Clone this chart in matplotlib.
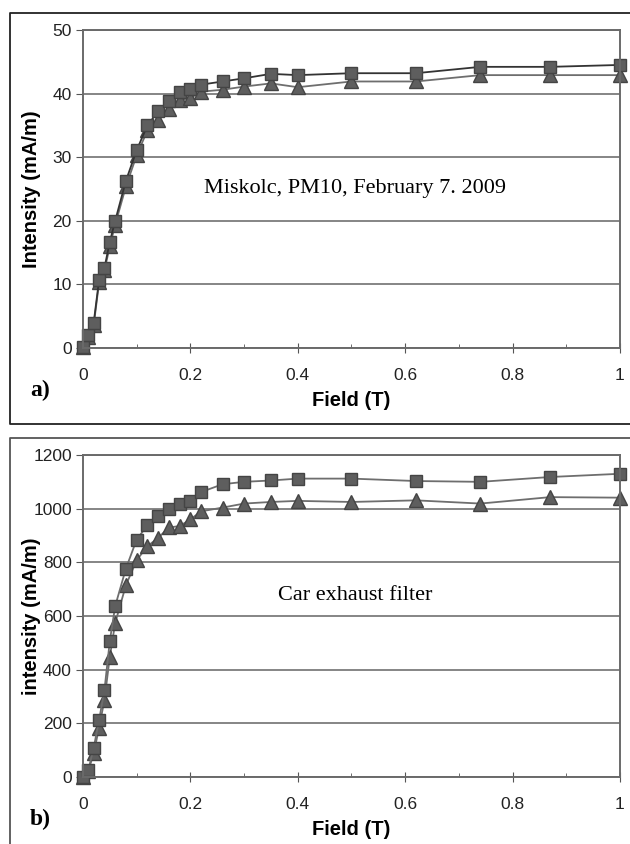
import matplotlib
matplotlib.use('Agg')
from matplotlib import pyplot as plt
from matplotlib.lines import Line2D
import numpy as np

# field values (T), same for both panels
field = [0, 0.01, 0.02, 0.03, 0.04, 0.05, 0.06, 0.08, 0.10, 0.12, 0.14, 0.16,
         0.18, 0.20, 0.22, 0.26, 0.30, 0.35, 0.40, 0.50, 0.62, 0.74, 0.87, 1.0]

# panel a) Miskolc PM10
a_square = [0.2, 2.0, 4.0, 10.7, 12.6, 16.7, 20.0, 26.3, 31.1, 35.0, 37.2, 38.8,
            40.2, 40.7, 41.4, 41.9, 42.4, 43.1, 42.9, 43.2, 43.2, 44.2, 44.2, 44.5]
a_triangle = [0.2, 1.7, 3.6, 10.3, 12.2, 16.0, 19.4, 25.4, 30.3, 34.2, 35.8, 37.6,
              39.0, 39.3, 40.3, 40.6, 41.1, 41.6, 41.0, 41.9, 41.9, 42.9, 42.9, 42.9]

# panel b) car exhaust filter
b_square = [0, 26, 109, 212, 324, 507, 637, 777, 885, 938, 972, 1000,
            1019, 1029, 1062, 1091, 1100, 1105, 1112, 1112, 1103, 1100, 1118, 1130]
b_triangle = [0, 23, 88, 184, 287, 448, 574, 715, 808, 860, 891, 930,
              935, 960, 990, 1004, 1019, 1025, 1029, 1025, 1031, 1019, 1043, 1041]

x_ticks = [0, 0.2, 0.4, 0.6, 0.8, 1]
x_ticklabels = ['0', '0.2', '0.4', '0.6', '0.8', '1']

GRID = '#858585'
FILL = '#5e5e5e'
EDGE = '#444444'


def style_axes(ax, ymax, ystep, ylabel, note, note_y, panel, h_px):
    ax.set_xlim(0, 1)
    ax.set_ylim(0, ymax)
    ax.set_xticks(x_ticks)
    ax.set_xticklabels(x_ticklabels)
    ax.set_xticks(np.arange(0.1, 1.0, 0.2), minor=True)
    ax.set_yticks(np.arange(0, ymax + 1, ystep))
    ax.yaxis.grid(True, color=GRID, linewidth=1.4)
    ax.set_axisbelow(True)
    for s in ax.spines.values():
        s.set_color('#6a6a6a')
        s.set_linewidth(1.4)
    ax.tick_params(axis='x', which='major', direction='inout', length=7,
                   color='#555555', labelsize=12.5, pad=11)
    ax.tick_params(axis='x', which='minor', direction='in', length=3,
                   color='#555555')
    ax.tick_params(axis='y', direction='out', length=5, color='#555555',
                   labelsize=12.5, pad=3)
    for lab in ax.get_xticklabels() + ax.get_yticklabels():
        lab.set_family('Liberation Sans')
        lab.set_color('#222222')
    ax.set_xlabel('Field (T)', family='Liberation Sans', fontweight='bold',
                  fontsize=14.5, va='center')
    ax.xaxis.set_label_coords(0.5, -53.0 / h_px)
    ax.set_ylabel(ylabel, family='Liberation Sans', fontweight='bold',
                  fontsize=14.5, va='center')
    ax.yaxis.set_label_coords(-51.0 / 536, 0.5)
    ax.text(0.507, note_y, note, transform=ax.transAxes, family='Liberation Serif',
            fontsize=16, ha='center', va='center')
    ax.text(-43.0 / 536, -42.0 / h_px, panel, transform=ax.transAxes,
            family='Liberation Serif', fontweight='bold', fontsize=17,
            ha='center', va='center')


fig = plt.figure(figsize=(6.3, 8.44), dpi=100)

ax1 = fig.add_axes([0.1317, 0.5877, 0.8524, 0.3768])
ax1.plot(field, a_triangle, color='#6e6e6e', linewidth=1.3, marker='^',
         markersize=10, markerfacecolor=FILL, markeredgecolor=EDGE, clip_on=False)
ax1.plot(field, a_square, color='#333333', linewidth=1.3, marker='s',
         markersize=8.5, markerfacecolor=FILL, markeredgecolor=EDGE, clip_on=False)
style_axes(ax1, 50, 10, 'Intensity (mA/m)', 'Miskolc, PM10, February 7. 2009',
           0.5, 'a)', 318.0)

ax2 = fig.add_axes([0.1317, 0.0794, 0.8524, 0.3815])
ax2.plot(field, b_triangle, color='#6e6e6e', linewidth=1.3, marker='^',
         markersize=10, markerfacecolor=FILL, markeredgecolor=EDGE, clip_on=False)
ax2.plot(field, b_square, color='#6e6e6e', linewidth=1.3, marker='s',
         markersize=8.5, markerfacecolor=FILL, markeredgecolor=EDGE, clip_on=False)
style_axes(ax2, 1200, 200, 'intensity (mA/m)', 'Car exhaust filter', 0.565, 'b)',
           322.0)

# frames around the two panels (they run off the right/bottom edge)
W, H = 630.0, 844.0
def frame(x0, y0, y1, color):
    xs = [1.02, x0 / W, x0 / W, 1.02]
    ys = [1 - y0 / H, 1 - y0 / H, 1 - y1 / H, 1 - y1 / H]
    fig.add_artist(Line2D(xs, ys, color=color, linewidth=1.3,
                          transform=fig.transFigure))

frame(10, 13, 424, '#222222')
frame(10, 438, 860, '#555555')

fig.savefig('out.png', dpi=100)
